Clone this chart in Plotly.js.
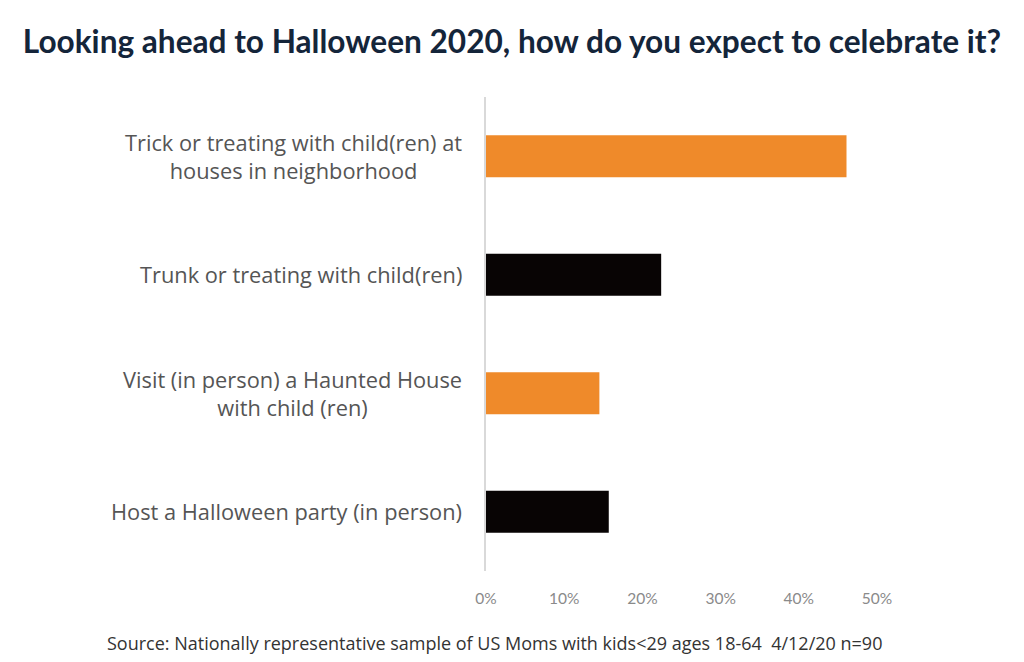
<!DOCTYPE html>
<html>
<head>
<meta charset="utf-8">
<script src="https://cdn.plot.ly/plotly-3.0.1.min.js"></script>
<style>html,body{margin:0;padding:0;background:#fff;}#chart{width:1024px;height:662px;}</style>
</head>
<body>
<div id="chart"></div>
<script>
const categories = [
  "Trick or treating with child(ren) at<br>houses in neighborhood",
  "Trunk or treating with child(ren)",
  "Visit (in person) a Haunted House<br>with child (ren)",
  "Host a Halloween party (in person)"
];
const values = [0.461, 0.224, 0.145, 0.157];
const barColors = ["#EF8A2A", "#080404", "#EF8A2A", "#080404"];
const tickValues = [0, 0.1, 0.2, 0.3, 0.4, 0.5];
const tickLabels = ["0%", "10%", "20%", "30%", "40%", "50%"];
const titleText = "Looking ahead to Halloween 2020, how do you expect to celebrate it?";
const sourceText = "Source: Nationally representative sample of US Moms with kids&lt;29 ages 18-64  4/12/20 n=90";

const trace = {
  type: "bar",
  orientation: "h",
  y: categories,
  x: values,
  width: 0.355,
  marker: {color: barColors},
  hoverinfo: "none"
};

const labelAnnotations = categories.map(c => ({
  x: 0, xref: "paper", xanchor: "right", xshift: -22,
  y: c, yref: "y", yanchor: "middle",
  text: c, showarrow: false, align: "center",
  font: {family: "'Open Sans', Lato, sans-serif", size: 21.8, color: "#555555"}
}));

const plotW = 1024 - 486 - 147;
const plotH = 662 - 97 - 91;

const layout = {
  width: 1024, height: 662,
  margin: {l: 486, r: 147, t: 97, b: 91},
  paper_bgcolor: "#ffffff", plot_bgcolor: "#ffffff",
  showlegend: false,
  title: {
    text: "<b>" + titleText + "</b>",
    x: 0.5, xanchor: "center", xref: "container",
    y: 1 - 42/662, yref: "container", yanchor: "middle",
    font: {family: "Lato, 'Open Sans', sans-serif", size: 31.6, color: "#14253a"}
  },
  xaxis: {
    range: [0, 0.5],
    tickvals: tickValues, ticktext: tickLabels,
    showgrid: false, zeroline: false, showline: false,
    ticks: "", ticklabelstandoff: 16,
    tickfont: {family: "Lato, 'Open Sans', sans-serif", size: 15.5, color: "#8a8a8a"},
    fixedrange: true
  },
  yaxis: {
    type: "category",
    autorange: "reversed",
    showticklabels: false,
    showgrid: false, zeroline: false,
    showline: true, linecolor: "#d9d9d9", linewidth: 2,
    ticks: "",
    fixedrange: true
  },
  annotations: labelAnnotations.concat([{
    x: (494 - 486) / plotW, xref: "paper", xanchor: "center",
    y: 1 - (643 - 97) / plotH, yref: "paper", yanchor: "middle",
    text: sourceText, showarrow: false,
    font: {family: "'Open Sans', Lato, sans-serif", size: 18, color: "#333333"}
  }])
};

Plotly.newPlot("chart", [trace], layout, {displayModeBar: false, staticPlot: true});
</script>
</body>
</html>
